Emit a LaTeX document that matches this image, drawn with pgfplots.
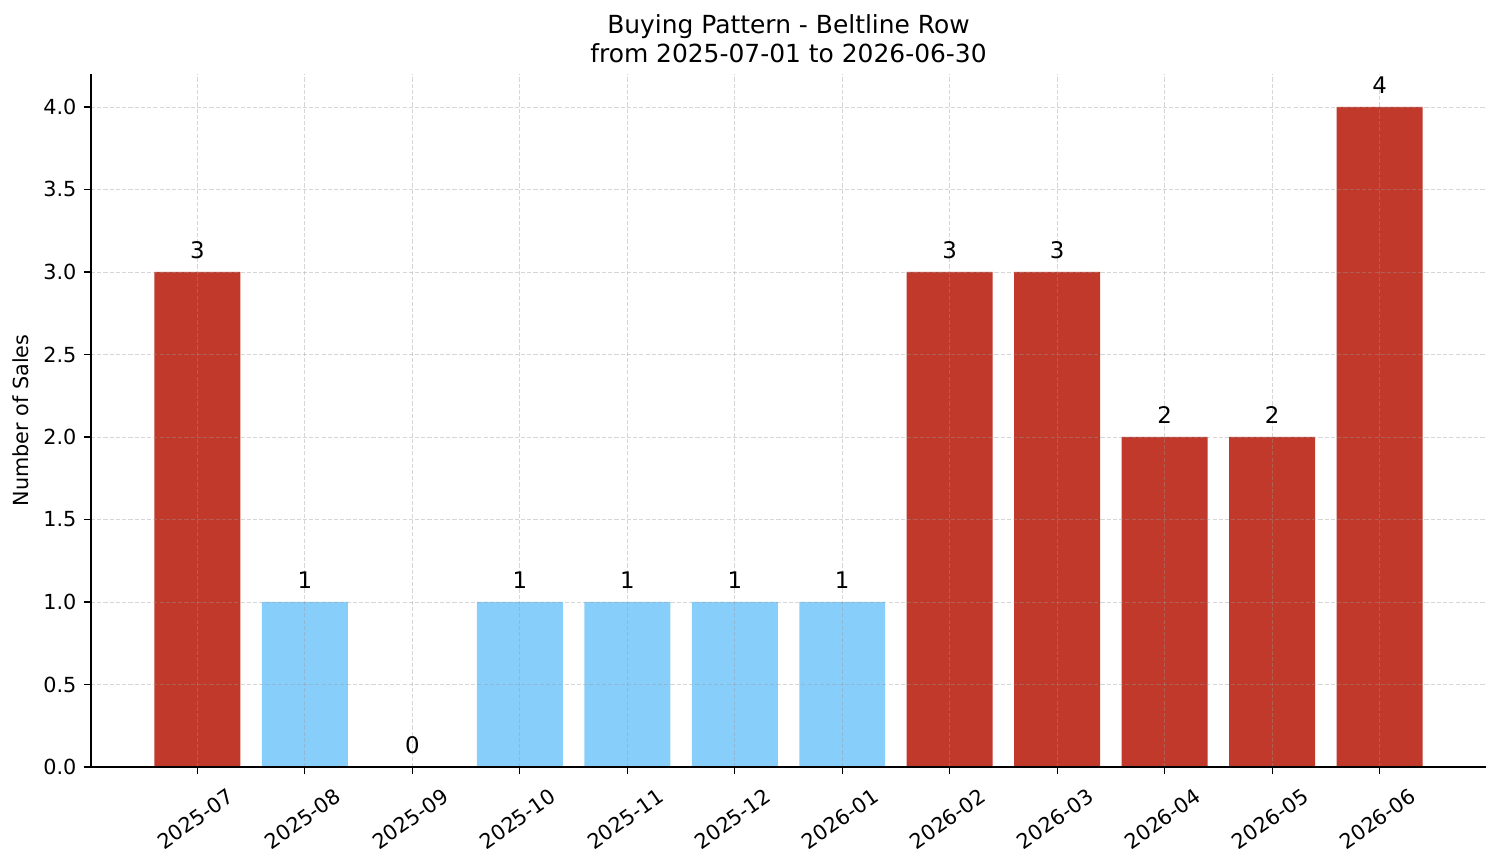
\documentclass[border=0pt]{standalone}
\usepackage{pgfplots}
\pgfplotsset{compat=1.18}
\usepackage{fontspec}
\setmainfont{DejaVu Sans}
\definecolor{barred}{HTML}{C0392B}
\definecolor{barblue}{HTML}{87CEFA}
\definecolor{gridc}{HTML}{999999}
\begin{document}
\begin{tikzpicture}
\begin{axis}[
  scale only axis,
  width=671.7pt, height=333.7pt,
  xmin=-0.99, xmax=11.99,
  ymin=0, ymax=4.2,
  axis lines*=left,
  axis line style={line width=0.6pt},
  xtick={0,...,11},
  xticklabels={2025-07,2025-08,2025-09,2025-10,2025-11,2025-12,2026-01,2026-02,2026-03,2026-04,2026-05,2026-06},
  ytick={0,0.5,...,4.0},
  yticklabel style={/pgf/number format/fixed,/pgf/number format/fixed zerofill,/pgf/number format/precision=1},
  /pgf/number format/assume math mode=true,
  tick align=outside,
  major tick length=3.5pt,
  tick style={black, line width=0.6pt},
  x tick label style={anchor=center, yshift=-21.5pt, xshift=-1pt, rotate=35},
  tick label style={font=\fontsize{10}{12}\selectfont},
  grid=major,
  major grid style={gridc, opacity=0.4, dash pattern=on 2pt off 1pt, line width=0.35pt},
  axis on top,
  ylabel={Number of Sales},
  ylabel style={font=\fontsize{10}{12}\selectfont},
  title={Buying Pattern - Beltline Row\\from 2025-07-01 to 2026-06-30},
  title style={font=\fontsize{12}{14}\selectfont, align=center, yshift=-4.4pt},
  ybar, bar width=0.8, bar shift=0pt,
  nodes near coords,
  every node near coord/.append style={font=\fontsize{11}{13}\selectfont, black, yshift=3pt},
  clip=false,
]
\addplot[fill=barred, draw=none] coordinates {(0,3) (7,3) (8,3) (9,2) (10,2) (11,4)};
\addplot[fill=barblue, draw=none] coordinates {(1,1) (2,0) (3,1) (4,1) (5,1) (6,1)};
\end{axis}
\pgfresetboundingbox
\path (current axis.south west) ++(-43.8pt,-46.2pt) coordinate (bbsw);
\path (current axis.north east) ++(7.2pt,35.6pt) coordinate (bbne);
\path[use as bounding box] (bbsw) rectangle (bbne);
\end{tikzpicture}
\end{document}
